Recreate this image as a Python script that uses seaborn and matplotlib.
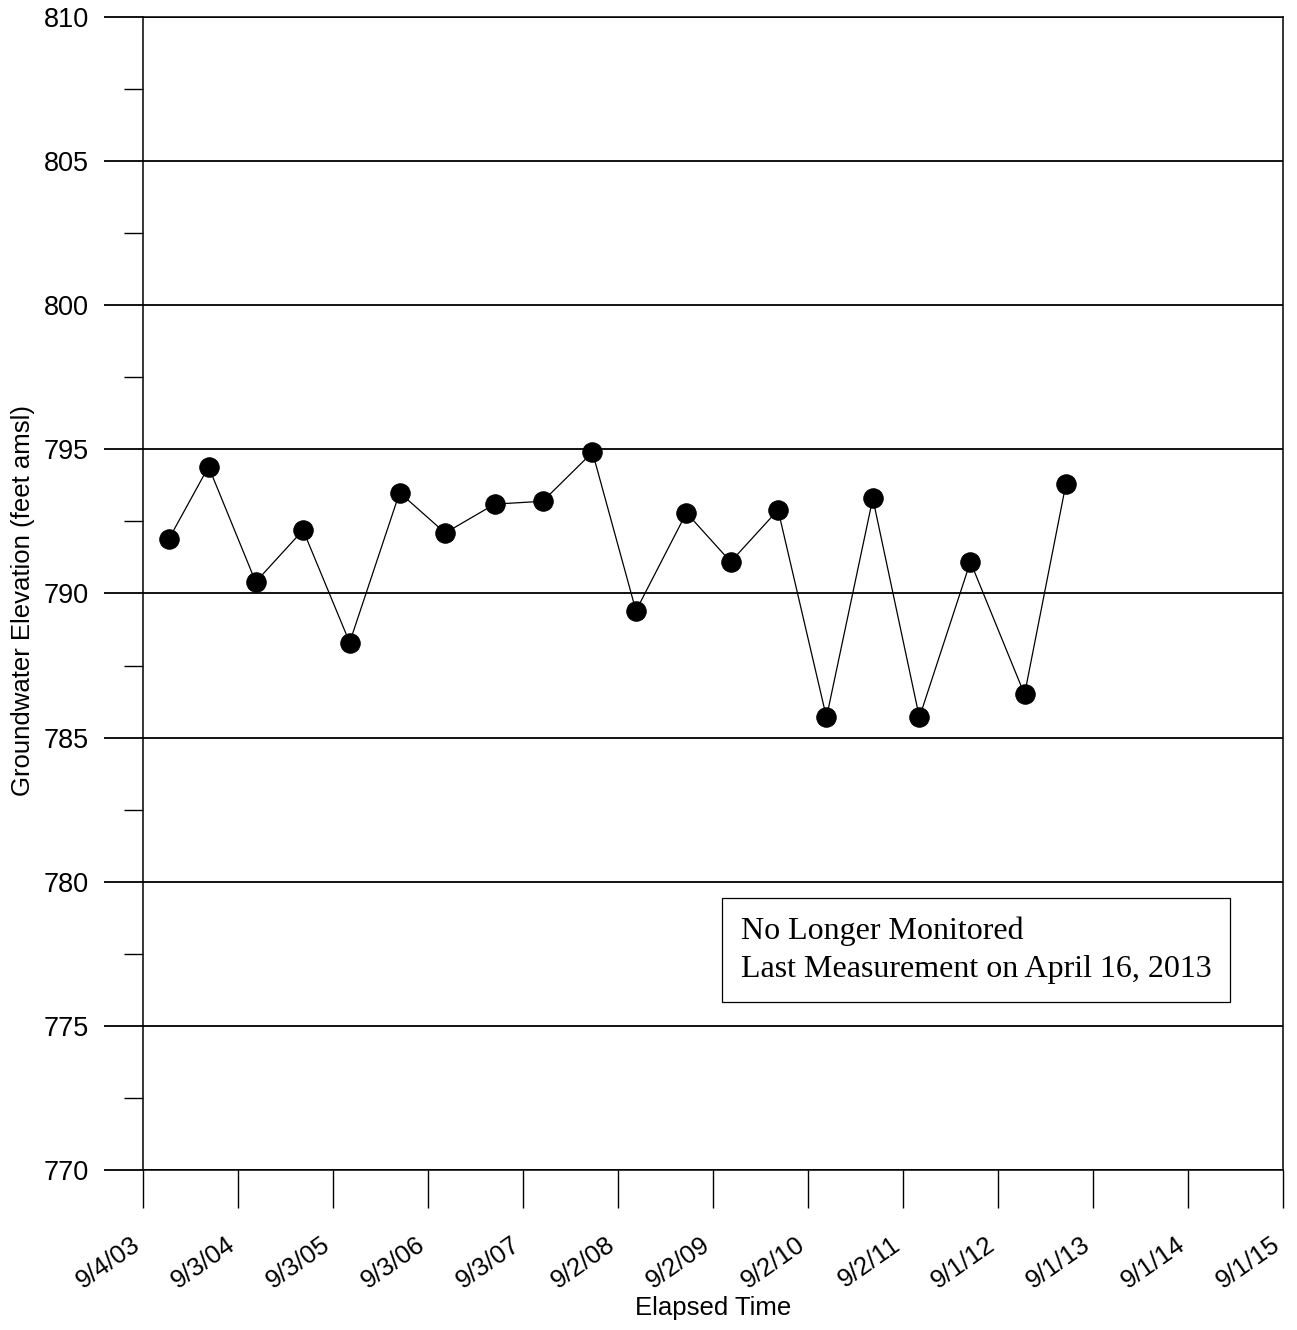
import matplotlib
matplotlib.use("Agg")
import matplotlib.pyplot as plt
import matplotlib.dates as mdates
import matplotlib.transforms as mtransforms
from matplotlib.ticker import FixedLocator, MultipleLocator
import pandas as pd
import seaborn as sns

# ---- data ----
dates = ["2003-12-13", "2004-05-13", "2004-11-10", "2005-05-11", "2005-11-06",
         "2006-05-17", "2006-11-08", "2007-05-17", "2007-11-18", "2008-05-27",
         "2008-11-10", "2009-05-23", "2009-11-09", "2010-05-10", "2010-11-12",
         "2011-05-09", "2011-11-04", "2012-05-18", "2012-12-12", "2013-05-20"]
elevation = [791.9, 794.4, 790.4, 792.2, 788.3,
             793.5, 792.1, 793.1, 793.2, 794.9,
             789.4, 792.8, 791.1, 792.9, 785.7,
             793.3, 785.7, 791.1, 786.5, 793.8]
tick_dates = ["2003-09-04", "2004-09-03", "2005-09-03", "2006-09-03", "2007-09-03",
              "2008-09-02", "2009-09-02", "2010-09-02", "2011-09-02", "2012-09-01",
              "2013-09-01", "2014-09-01", "2015-09-01"]
tick_labels = ["9/4/03", "9/3/04", "9/3/05", "9/3/06", "9/3/07", "9/2/08",
               "9/2/09", "9/2/10", "9/2/11", "9/1/12", "9/1/13", "9/1/14", "9/1/15"]
y_ticks = [770, 775, 780, 785, 790, 795, 800, 805, 810]
note_text = "No Longer Monitored\nLast Measurement on April 16, 2013"

df = pd.DataFrame({"date": pd.to_datetime(dates), "elev": elevation})

sns.set_theme(style="white")
plt.rcParams["font.family"] = ["Liberation Sans", "DejaVu Sans"]
plt.rcParams["text.color"] = "black"
plt.rcParams["axes.labelcolor"] = "black"
plt.rcParams["xtick.color"] = "black"
plt.rcParams["ytick.color"] = "black"

fig = plt.figure(figsize=(12.97, 13.30), dpi=100)
ax = fig.add_axes([143 / 1297, 1 - 1170 / 1330, (1283 - 143) / 1297, (1170 - 17) / 1330])

sns.lineplot(data=df, x="date", y="elev", ax=ax, color="black", linewidth=0.9,
             marker="o", markersize=14, markerfacecolor="black",
             markeredgecolor="black", zorder=3)

tick_nums = mdates.date2num(pd.to_datetime(tick_dates))
ax.set_xlim(tick_nums[0], tick_nums[-1])
ax.set_ylim(770, 810)
ax.xaxis.set_major_locator(FixedLocator(tick_nums))
ax.set_xticklabels(tick_labels, rotation=35, ha="right", va="top",
                   rotation_mode="anchor", fontsize=18.5, color="black")
ax.yaxis.set_major_locator(FixedLocator(y_ticks))
ax.yaxis.set_minor_locator(MultipleLocator(2.5))
ax.set_yticklabels([str(v) for v in y_ticks], fontsize=19.5, color="black")

ax.grid(axis="y", which="major", color="black", linewidth=1.3)
ax.grid(axis="x", visible=False)
ax.tick_params(axis="y", which="major", direction="out", length=28, width=1.3,
               color="black", pad=11, left=True)
ax.tick_params(axis="y", which="minor", direction="out", length=14, width=1.0,
               color="black", left=True)
ax.tick_params(axis="x", which="major", direction="out", length=27, width=1.0,
               color="black", pad=18, bottom=True)

for s in ax.spines.values():
    s.set_color("black")
    s.set_linewidth(1.1)
    s.set_visible(True)

ax.set_xlabel("Elapsed Time", fontsize=18.5, color="black")
ax.set_ylabel("Groundwater Elevation (feet amsl)", fontsize=18.5, color="black")
ax.xaxis.set_label_coords((713 - 143) / 1140, -(1320 - 1170) / 1153, transform=ax.transAxes)
ax.yaxis.set_label_coords(-(143 - 11) / 1140, (1170 - 600) / 1153, transform=ax.transAxes)
ax.xaxis.label.set_va("bottom")
ax.yaxis.label.set_va("top")

ax.text((741 - 143) / 1140, (1170 - 950) / 1153, note_text, transform=ax.transAxes,
        fontsize=23, family=["Liberation Serif", "DejaVu Serif"], va="center",
        ha="left", linespacing=1.42, color="black",
        bbox=dict(boxstyle="square,pad=0.58", facecolor="white",
                  edgecolor="black", linewidth=0.9), zorder=5)

# shift rotated x tick labels slightly left so they end just before each tick
fig.canvas.draw()
shift = mtransforms.ScaledTranslation(-12 / 100, 0, fig.dpi_scale_trans)
for lab in ax.xaxis.get_ticklabels():
    lab.set_transform(lab.get_transform() + shift)

fig.savefig("out.png", dpi=100, facecolor="white")
